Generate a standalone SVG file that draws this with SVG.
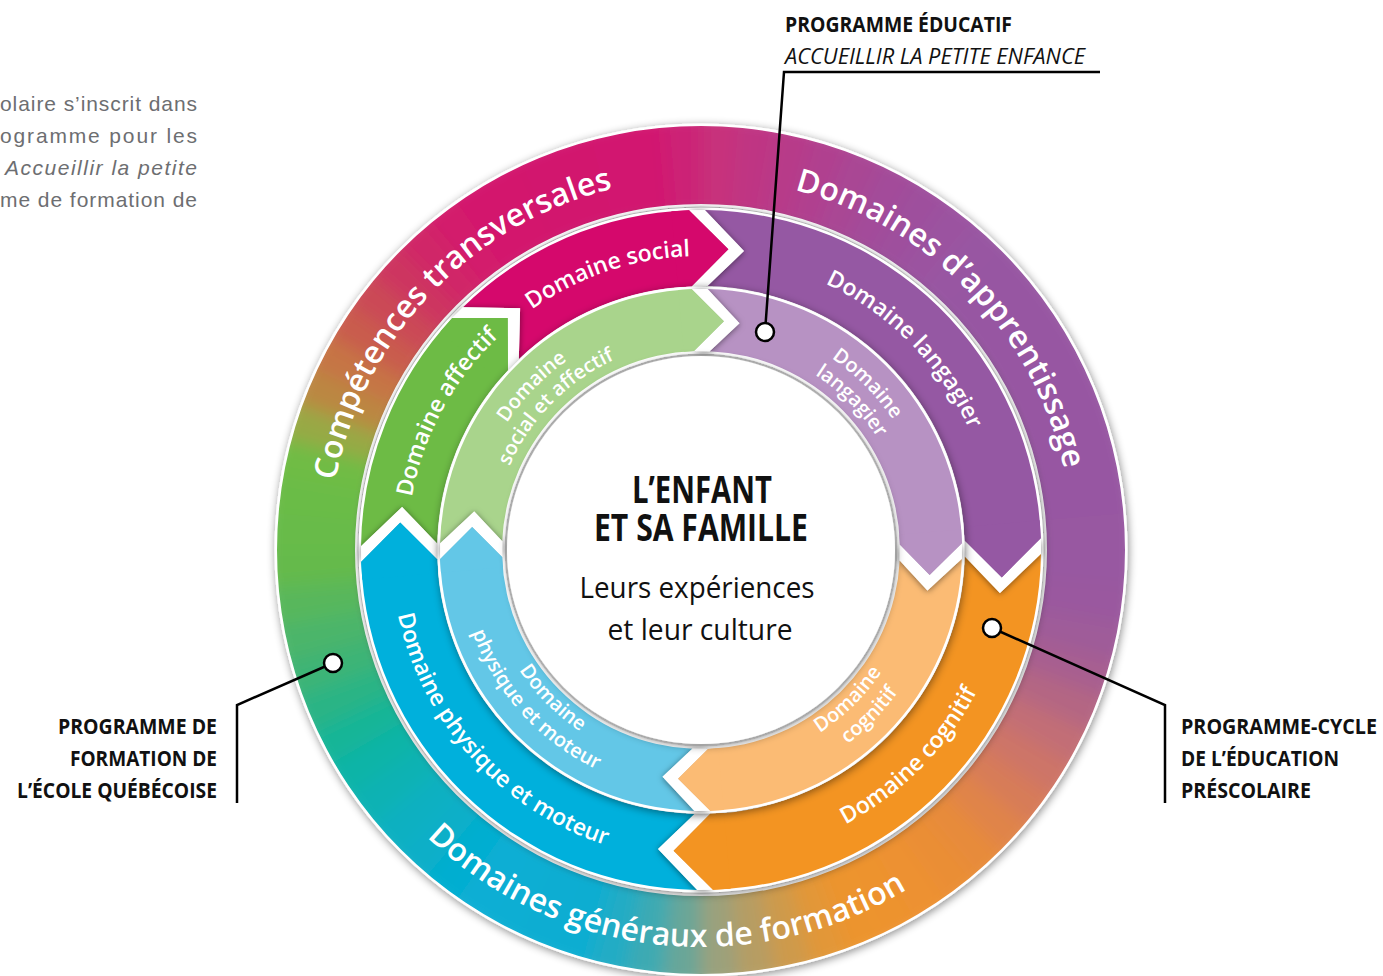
<svg xmlns="http://www.w3.org/2000/svg" width="1383" height="976" viewBox="0 0 1383 976">
<defs>
<filter id="sh" x="-20%" y="-20%" width="140%" height="140%"><feDropShadow dx="1" dy="2" stdDeviation="4" flood-color="#000" flood-opacity="0.45"/></filter>
<filter id="shb" x="-60%" y="-60%" width="220%" height="220%"><feDropShadow dx="0" dy="1" stdDeviation="3" flood-color="#000" flood-opacity="0.5"/></filter>
<filter id="bl" x="-10%" y="-10%" width="120%" height="120%"><feGaussianBlur stdDeviation="9"/></filter>
<clipPath id="oc"><path clip-rule="evenodd" d="M277,550 A424,424 0 1 1 1125,550 A424,424 0 1 1 277,550 Z M355,550 A346,346 0 1 0 1047,550 A346,346 0 1 0 355,550 Z"/></clipPath>
<path id="tp-ct" d="M344.32,655.66 A372,372 0 0 1 787.84,188.28"/>
<path id="tp-da" d="M611.0,189.05 A372,372 0 0 1 1058.59,652.54"/>
<path id="tp-dg" d="M337.76,710.21 A397,397 0 0 0 1021.36,784.47"/>
<path id="tp-ds" d="M450.08,396.82 A294,294 0 0 1 808.27,276.27"/>
<path id="tp-daf" d="M413.0,609.12 A294,294 0 0 1 592.77,276.64"/>
<path id="tp-dl" d="M728.67,257.31 A294,294 0 0 1 994.05,526.42"/>
<path id="tp-dc" d="M729.63,858.67 A310,310 0 0 0 1009.96,575.40"/>
<path id="tp-dp" d="M393.94,507.39 A310,310 0 0 0 712.36,859.79"/>
<path id="tp-i1" d="M469.57,533.82 A232,232 0 0 1 676.75,319.27"/>
<path id="tp-i2" d="M492.67,533.24 A209,209 0 0 1 681.33,341.93"/>
<path id="tp-i3" d="M721.22,318.88 A232,232 0 0 1 932.12,529.78"/>
<path id="tp-i4" d="M720.31,341.89 A209,209 0 0 1 909.30,532.87"/>
<path id="tp-i5" d="M718.10,767.33 A218,218 0 0 0 918.0,570.90"/>
<path id="tp-i6" d="M724.71,791.84 A243,243 0 0 0 943.28,568.64"/>
<path id="tp-i7" d="M483.80,568.62 A218,218 0 0 0 681.62,767.14"/>
<path id="tp-i8" d="M460.25,517.02 A243,243 0 0 0 710.33,792.82"/>
</defs>
<style>
.para{font-family:"Liberation Sans",Arial,sans-serif;font-size:21px;fill:#6d6e71}
.lbl{font-family:"Open Sans","Noto Sans",sans-serif;font-weight:600;fill:#fff}
.o{font-size:32px}
.m{font-size:23px}
.i{font-size:20px}
.co{font-family:"Open Sans","Noto Sans",sans-serif;font-weight:700;font-size:22px;fill:#111}
.coi{font-family:"Open Sans","Noto Sans",sans-serif;font-weight:400;font-style:italic;font-size:22px;fill:#111}
.ctr{font-family:"Open Sans","Noto Sans",sans-serif;fill:#111}
.ln{fill:none;stroke:#000;stroke-width:2.5}
.dot{fill:#fff;stroke:#000;stroke-width:2.5}
.sl{fill:none;stroke-width:110;stroke-dasharray:36 2400}
.base{fill:none;stroke:#fff}
.band{fill:#fff}
</style>
<rect width="1383" height="976" fill="#fff"/>

<g id="intro-text">
<text class="para" x="0" y="111" textLength="197" lengthAdjust="spacing">olaire s’inscrit dans</text>
<text class="para" x="0" y="143" textLength="197" lengthAdjust="spacing">ogramme pour les</text>
<text class="para" x="5" y="175" textLength="192" lengthAdjust="spacing" font-style="italic">Accueillir la petite</text>
<text class="para" x="0" y="207" textLength="197" lengthAdjust="spacing">me de formation de</text>
</g>

<g id="outer-ring">
<circle class="base" cx="701" cy="550" r="385" stroke-width="83" filter="url(#sh)"/>
<g clip-path="url(#oc)">
<g filter="url(#bl)">
<circle class="sl" cx="701" cy="550" r="385" stroke="#9858a1" transform="rotate(0 701 550)"/>
<circle class="sl" cx="701" cy="550" r="385" stroke="#9a599f" transform="rotate(5 701 550)"/>
<circle class="sl" cx="701" cy="550" r="385" stroke="#9f5c99" transform="rotate(10 701 550)"/>
<circle class="sl" cx="701" cy="550" r="385" stroke="#a75f90" transform="rotate(15 701 550)"/>
<circle class="sl" cx="701" cy="550" r="385" stroke="#b46683" transform="rotate(20 701 550)"/>
<circle class="sl" cx="701" cy="550" r="385" stroke="#c26e76" transform="rotate(25 701 550)"/>
<circle class="sl" cx="701" cy="550" r="385" stroke="#cd7568" transform="rotate(30 701 550)"/>
<circle class="sl" cx="701" cy="550" r="385" stroke="#d77c58" transform="rotate(35 701 550)"/>
<circle class="sl" cx="701" cy="550" r="385" stroke="#e08449" transform="rotate(40 701 550)"/>
<circle class="sl" cx="701" cy="550" r="385" stroke="#e78b3b" transform="rotate(45 701 550)"/>
<circle class="sl" cx="701" cy="550" r="385" stroke="#ea8e35" transform="rotate(50 701 550)"/>
<circle class="sl" cx="701" cy="550" r="385" stroke="#ed9130" transform="rotate(55 701 550)"/>
<circle class="sl" cx="701" cy="550" r="385" stroke="#ed932d" transform="rotate(60 701 550)"/>
<circle class="sl" cx="701" cy="550" r="385" stroke="#ec942e" transform="rotate(65 701 550)"/>
<circle class="sl" cx="701" cy="550" r="385" stroke="#e29738" transform="rotate(70 701 550)"/>
<circle class="sl" cx="701" cy="550" r="385" stroke="#ce9a4c" transform="rotate(75 701 550)"/>
<circle class="sl" cx="701" cy="550" r="385" stroke="#b69d64" transform="rotate(80 701 550)"/>
<circle class="sl" cx="701" cy="550" r="385" stroke="#9ba17c" transform="rotate(85 701 550)"/>
<circle class="sl" cx="701" cy="550" r="385" stroke="#69a698" transform="rotate(90 701 550)"/>
<circle class="sl" cx="701" cy="550" r="385" stroke="#3eaab2" transform="rotate(95 701 550)"/>
<circle class="sl" cx="701" cy="550" r="385" stroke="#21acc5" transform="rotate(100 701 550)"/>
<circle class="sl" cx="701" cy="550" r="385" stroke="#10add1" transform="rotate(105 701 550)"/>
<circle class="sl" cx="701" cy="550" r="385" stroke="#0badd2" transform="rotate(110 701 550)"/>
<circle class="sl" cx="701" cy="550" r="385" stroke="#09aed3" transform="rotate(115 701 550)"/>
<circle class="sl" cx="701" cy="550" r="385" stroke="#07aed4" transform="rotate(120 701 550)"/>
<circle class="sl" cx="701" cy="550" r="385" stroke="#06aed0" transform="rotate(125 701 550)"/>
<circle class="sl" cx="701" cy="550" r="385" stroke="#07afc8" transform="rotate(130 701 550)"/>
<circle class="sl" cx="701" cy="550" r="385" stroke="#08b0c1" transform="rotate(135 701 550)"/>
<circle class="sl" cx="701" cy="550" r="385" stroke="#0ab2b4" transform="rotate(140 701 550)"/>
<circle class="sl" cx="701" cy="550" r="385" stroke="#0cb4a7" transform="rotate(145 701 550)"/>
<circle class="sl" cx="701" cy="550" r="385" stroke="#17b597" transform="rotate(150 701 550)"/>
<circle class="sl" cx="701" cy="550" r="385" stroke="#2bb485" transform="rotate(155 701 550)"/>
<circle class="sl" cx="701" cy="550" r="385" stroke="#3cb476" transform="rotate(160 701 550)"/>
<circle class="sl" cx="701" cy="550" r="385" stroke="#4bb56b" transform="rotate(165 701 550)"/>
<circle class="sl" cx="701" cy="550" r="385" stroke="#58b75c" transform="rotate(170 701 550)"/>
<circle class="sl" cx="701" cy="550" r="385" stroke="#65ba4c" transform="rotate(175 701 550)"/>
<circle class="sl" cx="701" cy="550" r="385" stroke="#68bb48" transform="rotate(180 701 550)"/>
<circle class="sl" cx="701" cy="550" r="385" stroke="#6abc46" transform="rotate(185 701 550)"/>
<circle class="sl" cx="701" cy="550" r="385" stroke="#6fbc45" transform="rotate(190 701 550)"/>
<circle class="sl" cx="701" cy="550" r="385" stroke="#98a944" transform="rotate(195 701 550)"/>
<circle class="sl" cx="701" cy="550" r="385" stroke="#bb8742" transform="rotate(200 701 550)"/>
<circle class="sl" cx="701" cy="550" r="385" stroke="#c67444" transform="rotate(205 701 550)"/>
<circle class="sl" cx="701" cy="550" r="385" stroke="#c95c4d" transform="rotate(210 701 550)"/>
<circle class="sl" cx="701" cy="550" r="385" stroke="#cb4857" transform="rotate(215 701 550)"/>
<circle class="sl" cx="701" cy="550" r="385" stroke="#cd3561" transform="rotate(220 701 550)"/>
<circle class="sl" cx="701" cy="550" r="385" stroke="#d02767" transform="rotate(225 701 550)"/>
<circle class="sl" cx="701" cy="550" r="385" stroke="#d31a6c" transform="rotate(230 701 550)"/>
<circle class="sl" cx="701" cy="550" r="385" stroke="#d3196d" transform="rotate(235 701 550)"/>
<circle class="sl" cx="701" cy="550" r="385" stroke="#d3186d" transform="rotate(240 701 550)"/>
<circle class="sl" cx="701" cy="550" r="385" stroke="#d2176e" transform="rotate(245 701 550)"/>
<circle class="sl" cx="701" cy="550" r="385" stroke="#d2166e" transform="rotate(250 701 550)"/>
<circle class="sl" cx="701" cy="550" r="385" stroke="#d2156f" transform="rotate(255 701 550)"/>
<circle class="sl" cx="701" cy="550" r="385" stroke="#d2166f" transform="rotate(260 701 550)"/>
<circle class="sl" cx="701" cy="550" r="385" stroke="#cc2476" transform="rotate(265 701 550)"/>
<circle class="sl" cx="701" cy="550" r="385" stroke="#c7307c" transform="rotate(270 701 550)"/>
<circle class="sl" cx="701" cy="550" r="385" stroke="#bf3683" transform="rotate(275 701 550)"/>
<circle class="sl" cx="701" cy="550" r="385" stroke="#b73b89" transform="rotate(280 701 550)"/>
<circle class="sl" cx="701" cy="550" r="385" stroke="#b0408f" transform="rotate(285 701 550)"/>
<circle class="sl" cx="701" cy="550" r="385" stroke="#a94694" transform="rotate(290 701 550)"/>
<circle class="sl" cx="701" cy="550" r="385" stroke="#a34c9a" transform="rotate(295 701 550)"/>
<circle class="sl" cx="701" cy="550" r="385" stroke="#9e509d" transform="rotate(300 701 550)"/>
<circle class="sl" cx="701" cy="550" r="385" stroke="#9b53a0" transform="rotate(305 701 550)"/>
<circle class="sl" cx="701" cy="550" r="385" stroke="#9856a2" transform="rotate(310 701 550)"/>
<circle class="sl" cx="701" cy="550" r="385" stroke="#9757a2" transform="rotate(315 701 550)"/>
<circle class="sl" cx="701" cy="550" r="385" stroke="#9757a2" transform="rotate(320 701 550)"/>
<circle class="sl" cx="701" cy="550" r="385" stroke="#9757a2" transform="rotate(325 701 550)"/>
<circle class="sl" cx="701" cy="550" r="385" stroke="#9757a2" transform="rotate(330 701 550)"/>
<circle class="sl" cx="701" cy="550" r="385" stroke="#9757a2" transform="rotate(335 701 550)"/>
<circle class="sl" cx="701" cy="550" r="385" stroke="#9757a2" transform="rotate(340 701 550)"/>
<circle class="sl" cx="701" cy="550" r="385" stroke="#9757a2" transform="rotate(345 701 550)"/>
<circle class="sl" cx="701" cy="550" r="385" stroke="#9757a2" transform="rotate(350 701 550)"/>
<circle class="sl" cx="701" cy="550" r="385" stroke="#9858a1" transform="rotate(355 701 550)"/>
</g>
</g>
</g>

<g id="middle-ring">
<circle class="base" cx="701" cy="550" r="302" stroke-width="81" filter="url(#sh)"/>
<g id="seg-affectif"><path fill="#6dbb45" d="M361.02,546.26 A340,340 0 0 1 452.34,318.12 L507.71,317.96 L507.92,369.95 A264,264 0 0 0 437.08,543.60 L402.07,507.08 Z"/></g>
<g id="seg-social"><path fill="#d5086c" d="M463.04,307.15 A340,340 0 0 1 689.13,210.21 L728.42,249.25 L691.79,286.16 A264,264 0 0 0 518.82,358.93 L520.10,308.18 Z"/></g>
<g id="seg-langagier"><path fill="#9558a3" d="M704.74,210.02 A340,340 0 0 1 1040.79,538.13 L1001.75,577.42 L964.84,540.79 A264,264 0 0 0 707.40,286.08 L743.92,251.07 Z"/></g>
<g id="seg-cognitif"><path fill="#f39422" d="M1040.98,553.74 A340,340 0 0 1 712.87,889.79 L673.58,850.75 L710.21,813.84 A264,264 0 0 0 964.92,556.40 L999.93,592.92 Z"/></g>
<g id="seg-physique"><path fill="#00b0dc" d="M697.26,889.98 A340,340 0 0 1 361.21,561.87 L400.25,522.58 L437.16,559.21 A264,264 0 0 0 694.60,813.92 L658.08,848.93 Z"/></g>
<g filter="url(#shb)">
<polygon class="band" points="361.21,561.87 400.25,522.58 437.16,559.21 437.08,543.60 402.07,507.08 361.02,546.26"/>
<polygon class="band" points="452.34,318.12 507.71,317.96 507.92,369.95 518.82,358.93 520.10,308.18 463.04,307.15"/>
<polygon class="band" points="689.13,210.21 728.42,249.25 691.79,286.16 707.40,286.08 743.92,251.07 704.74,210.02"/>
<polygon class="band" points="1040.79,538.13 1001.75,577.42 964.84,540.79 964.92,556.40 999.93,592.92 1040.98,553.74"/>
<polygon class="band" points="712.87,889.79 673.58,850.75 710.21,813.84 694.60,813.92 658.08,848.93 697.26,889.98"/>
</g>
<polygon fill="#00b0dc" points="362.30,579.63 361.21,561.87 400.25,522.58 437.16,559.21 438.01,573.01"/>
<polygon fill="#6dbb45" points="440.55,331.45 452.34,318.12 507.71,317.96 507.92,369.95 498.77,380.30"/>
<polygon fill="#d5086c" points="671.37,211.30 689.13,210.21 728.42,249.25 691.79,286.16 677.99,287.01"/>
<polygon fill="#9558a3" points="1039.70,520.37 1040.79,538.13 1001.75,577.42 964.84,540.79 963.99,526.99"/>
<polygon fill="#f39422" points="730.63,888.70 712.87,889.79 673.58,850.75 710.21,813.84 724.01,812.99"/>
</g>

<g id="inner-ring">
<circle class="base" cx="701" cy="550" r="230" stroke-width="67" filter="url(#sh)"/>
<g id="seg-social-affectif"><path fill="#a9d48c" d="M440.08,543.53 A261,261 0 0 1 691.89,289.16 L723.92,321.15 L694.05,351.12 A199,199 0 0 0 502.19,541.36 L474.23,511.60 Z"/></g>
<g id="seg-langagier-pe"><path fill="#b792c3" d="M707.47,289.08 A261,261 0 0 1 961.91,543.17 L929.65,574.92 L899.93,544.79 A199,199 0 0 0 709.64,351.19 L739.40,323.23 Z"/></g>
<g id="seg-cognitif-pe"><path fill="#fbbb74" d="M961.85,558.74 A261,261 0 0 1 710.11,810.84 L678.08,778.85 L707.95,748.88 A199,199 0 0 0 899.73,560.38 L927.43,590.38 Z"/></g>
<g id="seg-physique-pe"><path fill="#63c7e7" d="M694.53,810.92 A261,261 0 0 1 440.16,559.11 L472.15,527.08 L502.12,556.95 A199,199 0 0 0 692.36,748.81 L662.60,776.77 Z"/></g>
<g filter="url(#shb)">
<polygon class="band" points="440.16,559.11 472.15,527.08 502.12,556.95 502.19,541.36 474.23,511.60 440.08,543.53"/>
<polygon class="band" points="691.89,289.16 723.92,321.15 694.05,351.12 709.64,351.19 739.40,323.23 707.47,289.08"/>
<polygon class="band" points="961.91,543.17 929.65,574.92 899.93,544.79 899.73,560.38 927.43,590.38 961.85,558.74"/>
<polygon class="band" points="710.11,810.84 678.08,778.85 707.95,748.88 692.36,748.81 662.60,776.77 694.53,810.92"/>
</g>
<polygon fill="#63c7e7" points="440.99,572.75 440.16,559.11 472.15,527.08 502.12,556.95 502.76,567.34"/>
<polygon fill="#a9d48c" points="678.25,289.99 691.89,289.16 723.92,321.15 694.05,351.12 683.66,351.76"/>
<polygon fill="#b792c3" points="961.20,529.52 961.91,543.17 929.65,574.92 899.93,544.79 899.39,534.39"/>
<polygon fill="#fbbb74" points="723.75,810.01 710.11,810.84 678.08,778.85 707.95,748.88 718.34,748.24"/>
</g>

<g id="center">
<circle cx="701" cy="550" r="194" fill="#fff" filter="url(#sh)"/>
<text class="ctr" x="702" y="503" text-anchor="middle" font-weight="700" font-size="38" textLength="140" lengthAdjust="spacingAndGlyphs">L’ENFANT</text>
<text class="ctr" x="701" y="541" text-anchor="middle" font-weight="700" font-size="38" textLength="214" lengthAdjust="spacingAndGlyphs">ET SA FAMILLE</text>
<text class="ctr" x="697" y="598" text-anchor="middle" font-size="30" textLength="235" lengthAdjust="spacingAndGlyphs">Leurs expériences</text>
<text class="ctr" x="700" y="640" text-anchor="middle" font-size="30" textLength="185" lengthAdjust="spacingAndGlyphs">et leur culture</text>
</g>

<g id="ring-labels">
<text class="lbl o" text-anchor="middle"><textPath href="#tp-ct" startOffset="50%">Compétences transversales</textPath></text>
<text class="lbl o" text-anchor="middle"><textPath href="#tp-da" startOffset="50%">Domaines d’apprentissage</textPath></text>
<text class="lbl o" text-anchor="middle"><textPath href="#tp-dg" startOffset="50%">Domaines généraux de formation</textPath></text>
<text class="lbl m" text-anchor="middle"><textPath href="#tp-ds" startOffset="50%">Domaine social</textPath></text>
<text class="lbl m" text-anchor="middle"><textPath href="#tp-daf" startOffset="50%">Domaine affectif</textPath></text>
<text class="lbl m" text-anchor="middle"><textPath href="#tp-dl" startOffset="50%">Domaine langagier</textPath></text>
<text class="lbl m" text-anchor="middle"><textPath href="#tp-dc" startOffset="50%">Domaine cognitif</textPath></text>
<text class="lbl m" text-anchor="middle"><textPath href="#tp-dp" startOffset="50%">Domaine physique et moteur</textPath></text>
<text class="lbl i" text-anchor="middle"><textPath href="#tp-i1" startOffset="50%">Domaine</textPath></text>
<text class="lbl i" text-anchor="middle"><textPath href="#tp-i2" startOffset="50%">social et affectif</textPath></text>
<text class="lbl i" text-anchor="middle"><textPath href="#tp-i3" startOffset="50%">Domaine</textPath></text>
<text class="lbl i" text-anchor="middle"><textPath href="#tp-i4" startOffset="50%">langagier</textPath></text>
<text class="lbl i" text-anchor="middle"><textPath href="#tp-i5" startOffset="50%">Domaine</textPath></text>
<text class="lbl i" text-anchor="middle"><textPath href="#tp-i6" startOffset="50%">cognitif</textPath></text>
<text class="lbl i" text-anchor="middle"><textPath href="#tp-i7" startOffset="50%">Domaine</textPath></text>
<text class="lbl i" text-anchor="middle"><textPath href="#tp-i8" startOffset="50%">physique et moteur</textPath></text>
</g>

<g id="connectors">
<path class="ln" d="M1100,72 H784 L765,332"/>
<path class="ln" d="M333,663 L237,705 V803"/>
<path class="ln" d="M992,628 L1165,705 V803"/>
</g>

<g id="callout-educatif">
<circle class="dot" cx="765" cy="332" r="9"/>
<text class="co" x="785" y="32" textLength="227" lengthAdjust="spacingAndGlyphs">PROGRAMME ÉDUCATIF</text>
<text class="coi" x="785" y="64" textLength="300" lengthAdjust="spacingAndGlyphs">ACCUEILLIR LA PETITE ENFANCE</text>
</g>
<g id="callout-pfeq">
<circle class="dot" cx="333" cy="663" r="9"/>
<text class="co" x="217" y="734" text-anchor="end" textLength="159" lengthAdjust="spacingAndGlyphs">PROGRAMME DE</text>
<text class="co" x="217" y="766" text-anchor="end" textLength="147" lengthAdjust="spacingAndGlyphs">FORMATION DE</text>
<text class="co" x="217" y="798" text-anchor="end" textLength="200" lengthAdjust="spacingAndGlyphs">L’ÉCOLE QUÉBÉCOISE</text>
</g>
<g id="callout-prescolaire">
<circle class="dot" cx="992" cy="628" r="9"/>
<g transform="translate(1181,0) scale(0.85,1)">
<text class="co" x="0" y="734" textLength="230.6" lengthAdjust="spacingAndGlyphs">PROGRAMME-CYCLE</text>
<text class="co" x="0" y="766" textLength="185.9" lengthAdjust="spacingAndGlyphs">DE L’ÉDUCATION</text>
<text class="co" x="0" y="798" textLength="152.9" lengthAdjust="spacingAndGlyphs">PRÉSCOLAIRE</text>
</g>
</g>
</svg>
